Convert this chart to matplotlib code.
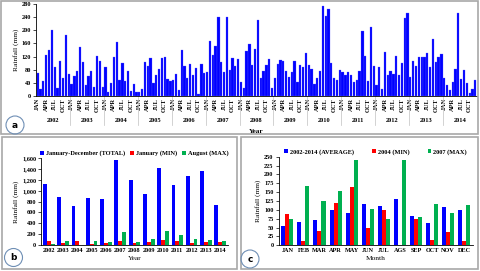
import numpy as np
import matplotlib
matplotlib.use("Agg")
import matplotlib.pyplot as plt
from matplotlib.patches import Rectangle, Ellipse
from matplotlib.ticker import FuncFormatter
import matplotlib.transforms as mtransforms

plt.rcParams['font.family'] = ['Liberation Serif', 'DejaVu Serif']
plt.rcParams['font.weight'] = 'bold'
plt.rcParams['font.size'] = 5

# monthly rainfall (mm), Jan 2002 .. Dec 2014
years = [2002, 2003, 2004, 2005, 2006, 2007, 2008, 2009, 2010, 2011, 2012, 2013, 2014]
monthly = [
    70, 21, 45, 124, 140, 202, 88, 23, 106, 54, 186, 68,     # 2002
    36, 60, 77, 150, 105, 35, 60, 77, 27, 122, 106, 27,      # 2003
    88, 11, 40, 118, 165, 50, 100, 45, 76, 16, 38, 12,       # 2004
    11, 21, 102, 91, 115, 41, 64, 81, 115, 120, 52, 45,      # 2005
    48, 68, 17, 140, 92, 55, 96, 65, 84, 7, 97, 71,          # 2006
    74, 167, 126, 153, 240, 103, 72, 240, 78, 115, 90, 112,  # 2007
    43, 24, 137, 158, 95, 144, 230, 54, 77, 93, 113, 24,     # 2008
    54, 96, 109, 107, 77, 58, 74, 107, 43, 94, 87, 131,      # 2009
    95, 81, 38, 56, 75, 274, 242, 264, 99, 56, 49, 79,       # 2010
    74, 65, 74, 63, 43, 49, 77, 198, 122, 47, 210, 91,       # 2011
    33, 88, 22, 135, 65, 77, 68, 122, 63, 100, 237, 252,     # 2012
    59, 107, 91, 118, 118, 118, 131, 89, 173, 102, 118, 129, # 2013
    56, 34, 18, 43, 81, 252, 53, 80, 40, 9, 21, 49,          # 2014
]
month_ticks = ['JAN', 'APR', 'JUL', 'OCT']

# panel b
total = [1128, 883, 717, 858, 840, 1569, 1201, 944, 1410, 1110, 1269, 1361, 742]
jan_min = [67, 31, 80, 12, 43, 67, 43, 49, 92, 67, 31, 55, 49]
aug_max = [18, 67, 6, 74, 61, 233, 49, 104, 257, 190, 116, 86, 80]

# panel c
months = ['JAN', 'FEB', 'MAR', 'APR', 'MAY', 'JUN', 'JUL', 'AGS', 'SEP', 'OCT', 'NOV', 'DEC']
avg = [55, 65, 72, 101, 92, 117, 111, 131, 82, 64, 108, 99]
y2004 = [87, 11, 39, 118, 165, 50, 101, 1, 75, 16, 38, 13]
y2007 = [74, 166, 126, 152, 240, 103, 73, 241, 79, 117, 90, 113]

BLUE = '#0000FF'
RED = '#FF0000'
GREEN = '#00B050'

W, H = 480, 271
fig = plt.figure(figsize=(W / 100, H / 100), dpi=100)


def fx(px):
    return px / W


def fy(py):
    return 1 - py / H


def frame(x0, y0, x1, y1):
    fig.add_artist(Rectangle((fx(x0), fy(y1)), fx(x1 - x0), (y1 - y0) / H,
                             transform=fig.transFigure, fill=False,
                             edgecolor='#a8a8a8', lw=1.2))


def badge(cx, cy, letter):
    r = 9
    fig.add_artist(Ellipse((fx(cx), fy(cy)), 2 * r / W, 2 * r / H,
                           transform=fig.transFigure, fill=False,
                           edgecolor='#6f8fb5', lw=0.8))
    fig.text(fx(cx), fy(cy), letter, ha='center', va='center',
             fontsize=6.5, family='DejaVu Sans', weight='bold')


def style(ax):
    for s in ['top', 'right']:
        ax.spines[s].set_visible(False)
    for s in ['left', 'bottom']:
        ax.spines[s].set_linewidth(0.6)
    ax.tick_params(axis='both', length=2, width=0.5, pad=1.5, labelsize=4.5)


frame(1, 1, 478, 134)
frame(2, 137, 237, 269)
frame(241, 137, 478, 269)

# ---- panel a ----
axa = fig.add_axes([fx(36), fy(96), fx(477 - 36), (96 - 4) / H])
idx = np.arange(len(monthly))
axa.bar(idx, monthly, width=0.8, color=BLUE, edgecolor='#6060ff', lw=0.2)
axa.set_xlim(-0.6, len(monthly) - 0.4)
axa.set_ylim(0, 280)
axa.set_yticks(range(0, 281, 40))
style(axa)
tick_pos = [12 * i + m for i in range(len(years)) for m in (0, 3, 6, 9)]
axa.set_xticks(tick_pos)
axa.set_xticklabels(month_ticks * len(years), rotation=90, fontsize=4.6)
axa.tick_params(axis='x', length=0, pad=1.5)
axa.set_ylabel('Rainfall (mm)', fontsize=5.3, labelpad=2)
trans = mtransforms.blended_transform_factory(axa.transData, axa.transAxes)
for i, yr in enumerate(years):
    axa.text(12 * i + 5.5, -0.27, str(yr), transform=trans, ha='center',
             va='center', fontsize=4.6)
    if i > 0:
        axa.plot([12 * i - 0.5] * 2, [0, -0.32], transform=trans, color='#c0c0c0',
                 lw=0.5, clip_on=False)
axa.text(0.5, -0.385, 'Year', transform=axa.transAxes, ha='center', va='center',
         fontsize=5.2)
badge(15, 125, 'a')

# ---- panel b ----
axb = fig.add_axes([fx(41), fy(245), fx(228 - 41), (245 - 158) / H])
xb = np.arange(len(years))
wb = 0.27
axb.bar(xb - wb, total, wb, color=BLUE, label='January-December (TOTAL)')
axb.bar(xb, jan_min, wb, color=RED, label='January (MIN)')
axb.bar(xb + wb, aug_max, wb, color=GREEN, label='August (MAX)')
axb.set_xlim(-0.55, len(years) - 0.45)
axb.set_ylim(0, 1600)
axb.set_yticks(range(0, 1601, 200))
axb.yaxis.set_major_formatter(FuncFormatter(lambda v, p: '{:,.0f}'.format(v)))
axb.set_xticks(xb)
axb.set_xticklabels([str(y) for y in years], fontsize=4.4)
style(axb)
axb.tick_params(axis='x', length=0, pad=2)
axb.set_ylabel('Rainfall (mm)', fontsize=5.3, labelpad=2)
axb.set_xlabel('Year', fontsize=5.3, labelpad=2)
axb.legend(loc='lower center', bbox_to_anchor=(0.5, 0.99), ncol=3, frameon=False,
           fontsize=4.6, handlelength=0.6, handleheight=0.6, handletextpad=0.3,
           columnspacing=0.8, borderaxespad=0)
badge(13.5, 257.5, 'b')

# ---- panel c ----
axc = fig.add_axes([fx(278.5), fy(245.3), fx(473 - 278.5), (245.3 - 156.7) / H])
xc = np.arange(len(months))
wc = 0.25
axc.bar(xc - wc, avg, wc, color=BLUE, label='2002-2014 (AVERAGE)')
axc.bar(xc, y2004, wc, color=RED, label='2004 (MIN)')
axc.bar(xc + wc, y2007, wc, color=GREEN, label='2007 (MAX)')
axc.set_xlim(-0.55, len(months) - 0.45)
axc.set_ylim(0, 250)
axc.set_yticks(range(0, 251, 25))
axc.set_xticks(xc)
axc.set_xticklabels(months, fontsize=4.1)
style(axc)
axc.tick_params(axis='x', length=0, pad=2)
axc.set_ylabel('Rainfall (mm)', fontsize=5.3, labelpad=2)
axc.set_xlabel('Month', fontsize=5.3, labelpad=2)
axc.legend(loc='lower center', bbox_to_anchor=(0.5, 0.99), ncol=3, frameon=False,
           fontsize=4.6, handlelength=0.6, handleheight=0.6, handletextpad=0.3,
           columnspacing=2.8, borderaxespad=0)
badge(250, 259, 'c')

fig.savefig('out.png', dpi=100)
